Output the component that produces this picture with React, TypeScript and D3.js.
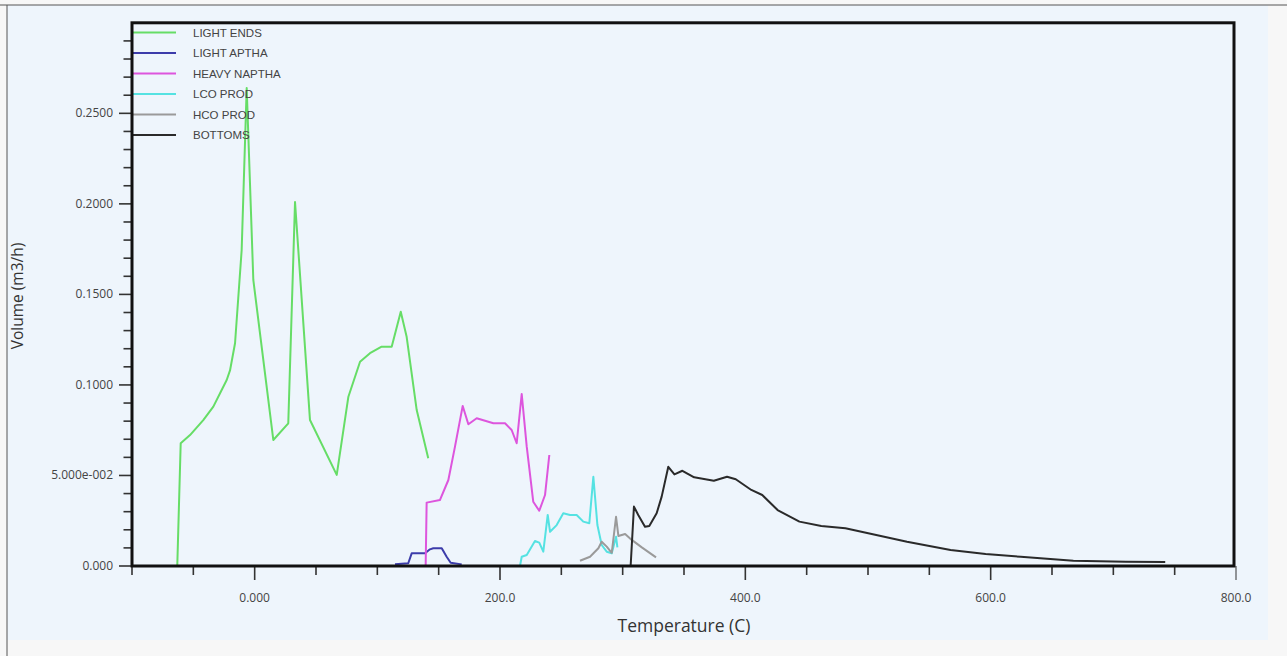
import * as d3 from "d3";
import { useEffect, useRef } from "react";

type Pt = [number, number];

// temperature (C), volume (m3/h)
const lightEnds: Pt[] = [
  [-63.1, 0], [-60.3, 0.0678], [-52.7, 0.0723], [-41.9, 0.0806], [-33.7, 0.088],
  [-26.9, 0.0972], [-22.8, 0.1027], [-20.1, 0.108], [-16, 0.123], [-10.6, 0.1745],
  [-6.5, 0.264], [-1.1, 0.158], [15.2, 0.0696], [27.4, 0.0788], [32.9, 0.201],
  [45.1, 0.0806], [66.9, 0.0503], [76.4, 0.0935], [85.9, 0.1128], [94, 0.1175],
  [103.5, 0.1211], [111.7, 0.1211], [119.1, 0.1404], [123.9, 0.1266], [132.1, 0.0861],
  [141.5, 0.0595],
];

const lightAptha: Pt[] = [
  [114.4, 0.0009], [125.2, 0.0015], [128, 0.007], [138.9, 0.007], [142.9, 0.0092],
  [145.6, 0.0098], [152.5, 0.0098], [156.5, 0.0051], [159.8, 0.0018], [168.8, 0.0009],
];

const heavyNaptha: Pt[] = [
  [139.4, 0], [140.2, 0.035], [151, 0.0364], [157.9, 0.0475], [163.3, 0.0659],
  [169.6, 0.0884], [174.2, 0.0783], [181, 0.0816], [194.6, 0.0788], [204.1, 0.0788],
  [209.5, 0.0751], [213.6, 0.0678], [217.7, 0.095], [221.8, 0.0659], [227.1, 0.0355],
  [232, 0.0305], [236.7, 0.0392], [240.2, 0.0613],
];

const lcoProd: Pt[] = [
  [216.3, 0], [217.7, 0.0051], [221.8, 0.0061], [228.5, 0.0138], [232, 0.0129],
  [235.3, 0.0079], [238.9, 0.0282], [240.8, 0.0189], [246.2, 0.0226], [251.6, 0.0291],
  [257.1, 0.0282], [262.5, 0.0282], [267.9, 0.0245], [272.8, 0.0236], [276.1, 0.0493],
  [279.4, 0.0226], [282.9, 0.0116], [287, 0.0079], [291.1, 0.007], [294.6, 0.0162],
  [295.7, 0.0103],
];

const hcoProd: Pt[] = [
  [265.2, 0.0029], [273.4, 0.0051], [280.2, 0.0098], [282.9, 0.0134], [287, 0.0107],
  [291.1, 0.0073], [294.6, 0.0272], [296.5, 0.0166], [302, 0.0177], [307.4, 0.0144],
  [315.6, 0.0103], [327.2, 0.0048],
];

const bottoms: Pt[] = [
  [306.5, 0], [309.2, 0.0328], [312.7, 0.0282], [318.2, 0.0217], [321.7, 0.0221],
  [327.7, 0.0291], [331.8, 0.0383], [337.2, 0.0548], [342.2, 0.0506], [348.7, 0.0526],
  [358.3, 0.049], [374.3, 0.0471], [385.1, 0.0493], [392.2, 0.0479], [404.9, 0.042],
  [413.8, 0.0392], [426.3, 0.0309], [444.1, 0.0245], [461.9, 0.0221], [481.6, 0.0208],
  [503, 0.0177], [531.8, 0.0134], [567.3, 0.0088], [595.9, 0.0066], [624.5, 0.0051],
  [667.4, 0.0029], [710.3, 0.0024], [742.3, 0.0022],
];

const seriesNames = ["LIGHT ENDS", "LIGHT APTHA", "HEAVY NAPTHA", "LCO PROD", "HCO PROD", "BOTTOMS"];
const seriesData = [lightEnds, lightAptha, heavyNaptha, lcoProd, hcoProd, bottoms];
const seriesColors = ["#66dd66", "#3c3caa", "#dd55dd", "#55e2e2", "#9a9a9a", "#2a2a2a"];

const xTickValues = [0, 200, 400, 600, 800];
const xTickLabels = ["0.000", "200.0", "400.0", "600.0", "800.0"];
const yTickValues = [0, 0.05, 0.1, 0.15, 0.2, 0.25];
const yTickLabels = ["0.000", "5.000e-002", "0.1000", "0.1500", "0.2000", "0.2500"];

export default function App() {
  const svgRef = useRef<SVGSVGElement>(null);

  useEffect(() => {
    if (!svgRef.current) return;
    const svg = d3.select(svgRef.current);
    svg.selectAll("*").remove();

    const W = 1287;
    const H = 656;
    const font = "'Open Sans', 'Noto Sans', sans-serif";

    // background + panel
    svg.append("rect").attr("width", W).attr("height", H).attr("fill", "#f7f7f7");
    svg.append("rect").attr("x", 7).attr("y", 5).attr("width", 1261).attr("height", 635).attr("fill", "#eef5fc");
    svg.append("line").attr("x1", 0).attr("x2", W).attr("y1", 5).attr("y2", 5).attr("stroke", "#555").attr("stroke-width", 1);
    svg.append("line").attr("x1", 7).attr("x2", 7).attr("y1", 5).attr("y2", H).attr("stroke", "#555").attr("stroke-width", 1);

    const x = d3.scaleLinear().domain([-100, 800]).range([132, 1236]);
    const y = d3.scaleLinear().domain([0, 0.3]).range([566, 22.8]);

    // x ticks
    const xMinor = d3.range(-100, 801, 50);
    svg.append("g")
      .selectAll("line")
      .data(xMinor)
      .enter()
      .append("line")
      .attr("x1", (d) => x(d))
      .attr("x2", (d) => x(d))
      .attr("y1", 566)
      .attr("y2", (d) => (xTickValues.includes(d) ? 580 : 575))
      .attr("stroke", "#333")
      .attr("stroke-width", (d) => (d === 800 ? 1 : 1.6));

    svg.append("g")
      .selectAll("text")
      .data(xTickValues)
      .enter()
      .append("text")
      .attr("x", (d) => x(d))
      .attr("y", 602)
      .attr("text-anchor", "middle")
      .attr("font-family", font)
      .attr("font-size", 12)
      .attr("fill", "#444")
      .text((_, i) => xTickLabels[i]);

    // y ticks
    const yMinor = d3.range(0, 30).map((i) => i / 100);
    svg.append("g")
      .selectAll("line")
      .data(yMinor)
      .enter()
      .append("line")
      .attr("y1", (d) => y(d))
      .attr("y2", (d) => y(d))
      .attr("x1", (_, i) => (i % 5 === 0 ? 119 : 123.5))
      .attr("x2", 132)
      .attr("stroke", "#333")
      .attr("stroke-width", 1.6);

    svg.append("g")
      .selectAll("text")
      .data(yTickValues)
      .enter()
      .append("text")
      .attr("x", 113)
      .attr("y", (d) => y(d) + 4)
      .attr("text-anchor", "end")
      .attr("font-family", font)
      .attr("font-size", 12)
      .attr("fill", "#444")
      .text((_, i) => yTickLabels[i]);

    // axis titles
    svg.append("text")
      .attr("x", 684)
      .attr("y", 632)
      .attr("text-anchor", "middle")
      .attr("font-family", font)
      .attr("font-size", 17.5)
      .attr("fill", "#333")
      .text("Temperature (C)");

    svg.append("text")
      .attr("transform", "translate(23,296) rotate(-90)")
      .attr("text-anchor", "middle")
      .attr("font-family", font)
      .attr("font-size", 15.5)
      .attr("fill", "#333")
      .text("Volume (m3/h)");

    // series lines
    const line = d3
      .line<Pt>()
      .x((d) => x(d[0]))
      .y((d) => y(d[1]));

    const plot = svg.append("g");
    seriesData.forEach((data, i) => {
      plot.append("path")
        .datum(data)
        .attr("fill", "none")
        .attr("stroke", seriesColors[i])
        .attr("stroke-width", 2)
        .attr("stroke-linejoin", "round")
        .attr("d", line);
    });

    // legend
    const legend = svg.append("g");
    seriesNames.forEach((name, i) => {
      const ly = 32.5 + i * 20.5;
      legend.append("line")
        .attr("x1", 132)
        .attr("x2", 176)
        .attr("y1", ly)
        .attr("y2", ly)
        .attr("stroke", seriesColors[i])
        .attr("stroke-width", 2);
      legend.append("text")
        .attr("x", 193)
        .attr("y", ly + 4)
        .attr("font-family", "'Liberation Sans', Arial, sans-serif")
        .attr("font-size", 11.5)
        .attr("fill", "#444")
        .text(name);
    });

    // plot frame
    svg.append("rect")
      .attr("x", x(-100))
      .attr("y", y(0.3))
      .attr("width", x(800) - x(-100) - 2)
      .attr("height", y(0) - y(0.3))
      .attr("fill", "none")
      .attr("stroke", "#111")
      .attr("stroke-width", 3);
  }, []);

  return (
    <svg
      ref={svgRef}
      width="1287"
      height="656"
      style={{ position: "absolute", left: 0, top: 0 }}
    />
  );
}
